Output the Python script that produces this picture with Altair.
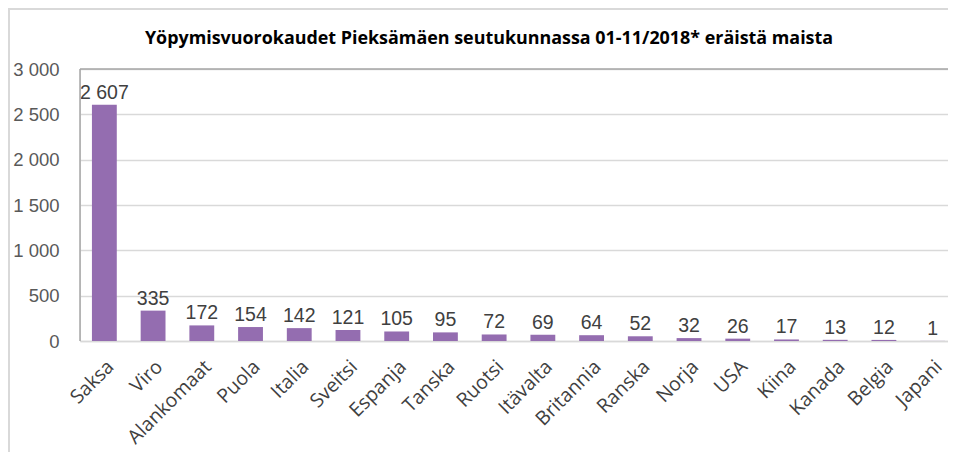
import altair as alt
import pandas as pd

countries = ["Saksa", "Viro", "Alankomaat", "Puola", "Italia", "Sveitsi", "Espanja",
             "Tanska", "Ruotsi", "Itävalta", "Britannia", "Ranska", "Norja", "USA",
             "Kiina", "Kanada", "Belgia", "Japani"]
values = [2607, 335, 172, 154, 142, 121, 105, 95, 72, 69, 64, 52, 32, 26, 17, 13, 12, 1]
title_text = "Yöpymisvuorokaudet Pieksämäen seutukunnassa 01-11/2018* eräistä maista"

df = pd.DataFrame({"maa": countries, "arvo": values})

FONT = "Liberation Sans"
W, H = 877, 272

x = alt.X("maa:N", sort=None, title=None,
          scale=alt.Scale(paddingInner=0.49, paddingOuter=0.245),
          axis=alt.Axis(labelAngle=-45, labelAlign="right", labelBaseline="top",
                        labelPadding=16, ticks=False, domain=True, domainColor="#d9d9d9",
                        domainWidth=1.5, labelFont="Open Sans", labelFontSize=19.5,
                        labelColor="#404040", grid=False))
y = alt.Y("arvo:Q", title=None,
          scale=alt.Scale(domain=[0, 3000], nice=False),
          axis=alt.Axis(values=[0, 500, 1000, 1500, 2000, 2500, 3000],
                        labelExpr="replace(format(datum.value, ','), ',', ' ')",
                        ticks=False, domain=False, labelPadding=21,
                        labelFont=FONT, labelFontSize=18.5, labelColor="#595959",
                        grid=True, gridColor="#d9d9d9", gridWidth=1.5))

base = alt.Chart(df)
bars = base.mark_bar(color="#946db0").encode(x=x, y=y)
labels = base.transform_calculate(
    lbl="replace(format(datum.arvo, ','), ',', ' ')"
).mark_text(baseline="bottom", dy=-2, font=FONT, fontSize=19.5, color="#404040").encode(
    x=alt.X("maa:N", sort=None), y="arvo:Q", text="lbl:N")

one = alt.Data(values=[{"a": 1}])
title = alt.Chart(one).mark_text(font="Open Sans", fontSize=17.9, fontWeight="bold",
                                 color="#000000", baseline="middle", align="center").encode(
    x=alt.value(409), y=alt.value(-30), text=alt.value(title_text))
left_border = alt.Chart(one).mark_rule(color="#d9d9d9", strokeWidth=2).encode(
    x=alt.value(-71), y=alt.value(-61), y2=alt.value(H + 120))
top_border = alt.Chart(one).mark_rule(color="#d9d9d9", strokeWidth=2).encode(
    y=alt.value(-60), x=alt.value(-71), x2=alt.value(W + 10))
plot_left = alt.Chart(one).mark_rule(color="#a6a6a6", strokeWidth=1.5).encode(
    x=alt.value(0), y=alt.value(0), y2=alt.value(H))
plot_top = alt.Chart(one).mark_rule(color="#a6a6a6", strokeWidth=1.5).encode(
    y=alt.value(0), x=alt.value(0), x2=alt.value(W + 10))

chart = alt.layer(bars, labels, title, left_border, top_border, plot_left, plot_top).properties(
    width=W, height=H,
    autosize=alt.AutoSizeParams(type="none"),
    padding={"left": 72, "top": 61, "right": -9, "bottom": 111},
).configure_view(stroke=None).configure(background="white")

chart.save("out.html", embed_options={"renderer": "svg", "actions": False})
